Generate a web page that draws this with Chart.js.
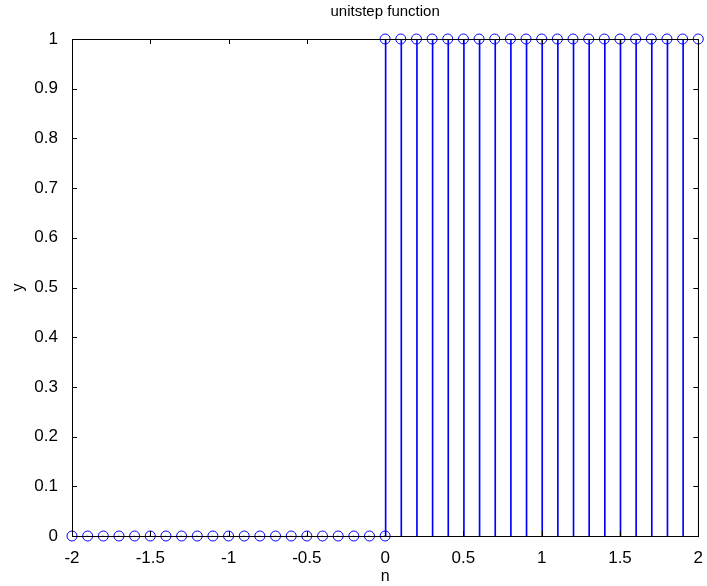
<!DOCTYPE html>
<html>
<head>
<meta charset="utf-8">
<script src="https://cdn.jsdelivr.net/npm/chart.js@4/dist/chart.umd.min.js"></script>
<style>
  html, body { margin: 0; padding: 0; background: #fff; }
  #wrap { width: 707px; height: 586px; }
</style>
</head>
<body>
<div id="wrap"><canvas id="stem"></canvas></div>
<script>
// samples for n < 0 (value 0) and n >= 0 (value 1)
const nNeg = [-2, -1.9, -1.8, -1.7, -1.6, -1.5, -1.4, -1.3, -1.2, -1.1, -1, -0.9, -0.8, -0.7, -0.6, -0.5, -0.4, -0.3, -0.2, -0.1, 0];
const yNeg = [0, 0, 0, 0, 0, 0, 0, 0, 0, 0, 0, 0, 0, 0, 0, 0, 0, 0, 0, 0, 0];
const nPos = [0, 0.1, 0.2, 0.3, 0.4, 0.5, 0.6, 0.7, 0.8, 0.9, 1, 1.1, 1.2, 1.3, 1.4, 1.5, 1.6, 1.7, 1.8, 1.9, 2];
const yPos = [1, 1, 1, 1, 1, 1, 1, 1, 1, 1, 1, 1, 1, 1, 1, 1, 1, 1, 1, 1, 1];

const xTicks = [-2, -1.5, -1, -0.5, 0, 0.5, 1, 1.5, 2];
const yTicks = [0, 0.1, 0.2, 0.3, 0.4, 0.5, 0.6, 0.7, 0.8, 0.9, 1];

const BLUE = '#0000ff';
const FONT = 'Liberation Sans, Arial, Helvetica, sans-serif';

const pts = (xs, ys) => xs.map((x, i) => ({ x, y: ys[i] }));

// box around the axes plus short inward ticks on every side
const matlabBox = {
  id: 'matlabBox',
  afterDatasetsDraw(chart) {
    const { ctx, chartArea: a, scales: { x, y } } = chart;
    const len = 5;
    ctx.save();
    ctx.strokeStyle = '#000';
    ctx.lineWidth = 1;
    ctx.beginPath();
    xTicks.forEach(v => {
      const px = Math.round(x.getPixelForValue(v)) + 0.5;
      ctx.moveTo(px, a.bottom); ctx.lineTo(px, a.bottom - len);
      ctx.moveTo(px, a.top); ctx.lineTo(px, a.top + len);
    });
    yTicks.forEach(v => {
      const py = Math.round(y.getPixelForValue(v)) + 0.5;
      ctx.moveTo(a.left, py); ctx.lineTo(a.left + len, py);
      ctx.moveTo(a.right, py); ctx.lineTo(a.right - len, py);
    });
    ctx.stroke();
    ctx.strokeRect(Math.round(a.left) + 0.5, Math.round(a.top) + 0.5,
      Math.round(a.right - a.left), Math.round(a.bottom - a.top));
    ctx.restore();
  }
};

new Chart(document.getElementById('stem'), {
  type: 'bar',
  data: {
    datasets: [
      // stems
      { type: 'bar', data: pts(nNeg, yNeg), backgroundColor: BLUE, barThickness: 1, order: 2 },
      { type: 'bar', data: pts(nPos, yPos), backgroundColor: BLUE, barThickness: 1, order: 2 },
      // circle markers
      { type: 'line', data: pts(nNeg, yNeg), showLine: false, pointStyle: 'circle', pointRadius: 5,
        pointBorderWidth: 1, pointBorderColor: BLUE, pointBackgroundColor: 'rgba(0,0,0,0)', clip: false, order: 1 },
      { type: 'line', data: pts(nPos, yPos), showLine: false, pointStyle: 'circle', pointRadius: 5,
        pointBorderWidth: 1, pointBorderColor: BLUE, pointBackgroundColor: 'rgba(0,0,0,0)', clip: false, order: 1 }
    ]
  },
  options: {
    responsive: true,
    maintainAspectRatio: false,
    animation: false,
    layout: { padding: { left: 0, right: 7, top: 0, bottom: 0 } },
    plugins: {
      legend: { display: false },
      tooltip: { enabled: false },
      title: {
        display: true,
        text: 'unitstep function',
        fullSize: false,
        color: '#000',
        font: { family: FONT, size: 15, weight: 'normal' },
        padding: { top: 3, bottom: 18 }
      }
    },
    scales: {
      x: {
        type: 'linear',
        min: -2, max: 2,
        offset: false,
        grid: { display: false },
        border: { display: false },
        afterBuildTicks: s => { s.ticks = xTicks.map(v => ({ value: v })); },
        ticks: { color: '#000', font: { family: FONT, size: 17 }, padding: 4, maxRotation: 0, autoSkip: false,
          callback: v => String(v) },
        title: { display: true, text: 'n', color: '#000', font: { family: FONT, size: 16 }, padding: { top: 0, bottom: 0 } },
        afterFit: s => { s.height = 50; }
      },
      y: {
        min: 0, max: 1,
        grid: { display: false },
        border: { display: false },
        afterBuildTicks: s => { s.ticks = yTicks.map(v => ({ value: v })); },
        ticks: { color: '#000', font: { family: FONT, size: 17 }, padding: 6, autoSkip: false,
          callback: v => String(v) },
        title: { display: true, text: 'y', color: '#000', font: { family: FONT, size: 16 }, padding: { top: 9, bottom: 0 } },
        afterFit: s => { s.width = 72; }
      }
    }
  },
  plugins: [matlabBox]
});
</script>
</body>
</html>
